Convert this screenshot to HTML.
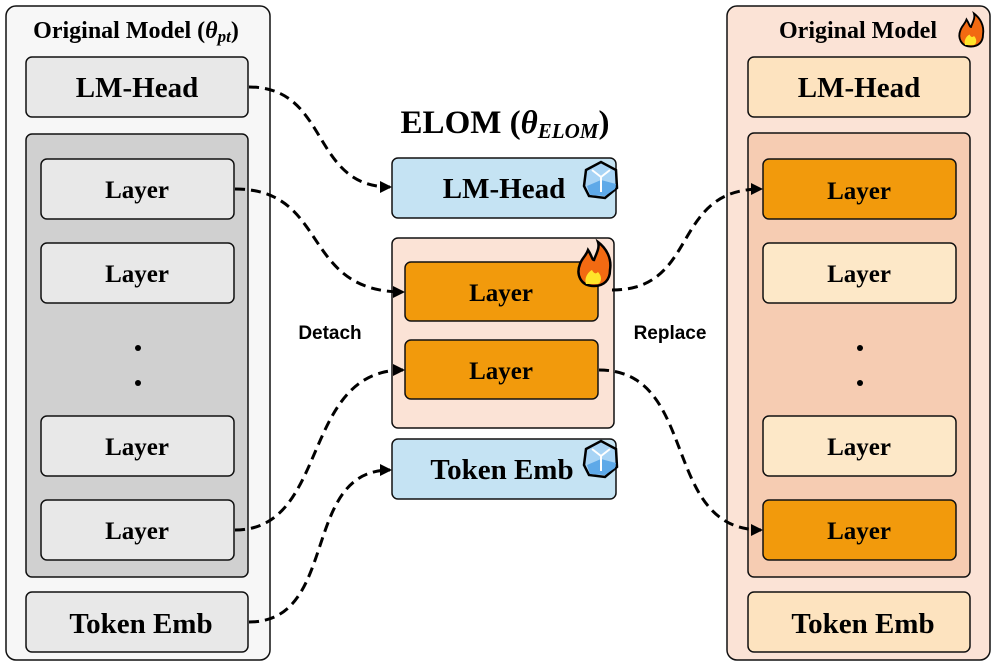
<!DOCTYPE html>
<html><head><meta charset="utf-8"><style>
html,body{margin:0;padding:0;background:#fff;}
svg{display:block;}
.t{font-family:"Liberation Serif",serif;font-weight:bold;fill:#000;}
.s{font-family:"Liberation Sans",sans-serif;font-weight:bold;fill:#000;}
.b{stroke:#111;stroke-width:1.5;}
.d{fill:none;stroke:#000;stroke-width:3;stroke-dasharray:10,6;}
</style></head><body>
<svg width="996" height="665" viewBox="0 0 996 665" xmlns="http://www.w3.org/2000/svg">
<defs>
<marker id="a" markerWidth="12" markerHeight="12" refX="10" refY="6" orient="auto" markerUnits="userSpaceOnUse">
<path d="M0,0 L12,6 L0,12 Z" fill="#000"/></marker>
<g id="ice">
<path d="M-15,-10 L0,-18 L15,-10 L16,8 L4,18 L-12,16 L-17,6 Z" fill="#a8d4f5" stroke="#000" stroke-width="2.5"/>
<path d="M-14,6 L0,0 L15,4 L14,9 L4,16 L-11,15 Z" fill="#5ea9e8"/>
<path d="M0,-3 L0,12 M0,-3 L-9,-10 M0,-3 L9,-10" stroke="#fff" stroke-width="2" fill="none"/>
</g>
<g id="fire">
<path d="M0,18 C-14,18 -18,6 -14,-4 C-12,-10 -8,-12 -6,-18 C-2,-12 -2,-8 0,-8 C2,-14 6,-20 4,-26 C12,-20 18,-10 16,2 C16,12 10,18 0,18 Z" fill="#f26a12" stroke="#000" stroke-width="2.5"/>
<path d="M-8,16 C-10,10 -6,4 -2,2 C0,6 2,6 4,4 C8,8 8,14 4,16 Z" fill="#ffe42a"/>
</g>
</defs>

<!-- Left -->
<rect x="6" y="6" width="264" height="654" rx="10" fill="#f7f7f7" class="b"/>
<text x="136" y="38" text-anchor="middle" class="t" font-size="24">Original Model (<tspan font-style="italic">θ</tspan><tspan font-style="italic" font-size="17" dy="4">pt</tspan><tspan dy="-4">)</tspan></text>
<rect x="26" y="57" width="222" height="60" rx="6" fill="#e8e8e8" class="b"/>
<text x="137" y="97" text-anchor="middle" class="t" font-size="29">LM-Head</text>
<rect x="26" y="134" width="222" height="443" rx="6" fill="#d0d0d0" class="b"/>
<rect x="41" y="159" width="193" height="60" rx="6" fill="#e8e8e8" class="b"/>
<text x="137" y="198" text-anchor="middle" class="t" font-size="25">Layer</text>
<rect x="41" y="243" width="193" height="60" rx="6" fill="#e8e8e8" class="b"/>
<text x="137" y="282" text-anchor="middle" class="t" font-size="25">Layer</text>
<circle cx="138" cy="348" r="3" fill="#000"/><circle cx="138" cy="383" r="3" fill="#000"/>
<rect x="41" y="416" width="193" height="60" rx="6" fill="#e8e8e8" class="b"/>
<text x="137" y="455" text-anchor="middle" class="t" font-size="25">Layer</text>
<rect x="41" y="500" width="193" height="60" rx="6" fill="#e8e8e8" class="b"/>
<text x="137" y="539" text-anchor="middle" class="t" font-size="25">Layer</text>
<rect x="26" y="592" width="222" height="60" rx="6" fill="#e8e8e8" class="b"/>
<text x="141" y="633" text-anchor="middle" class="t" font-size="29">Token Emb</text>

<!-- Middle -->
<text x="505" y="133" text-anchor="middle" class="t" font-size="33">ELOM (<tspan font-style="italic">θ</tspan><tspan font-style="italic" font-size="21" dy="5">ELOM</tspan><tspan dy="-5">)</tspan></text>
<rect x="392" y="158" width="224" height="60" rx="6" fill="#c5e3f3" class="b"/>
<text x="504" y="198" text-anchor="middle" class="t" font-size="29">LM-Head</text>
<use href="#ice" x="601" y="180"/>
<rect x="392" y="238" width="222" height="190" rx="6" fill="#fbe3d6" class="b"/>
<rect x="405" y="262" width="193" height="59" rx="6" fill="#f29a0c" class="b"/>
<text x="501" y="301" text-anchor="middle" class="t" font-size="25">Layer</text>
<rect x="405" y="340" width="193" height="59" rx="6" fill="#f29a0c" class="b"/>
<text x="501" y="379" text-anchor="middle" class="t" font-size="25">Layer</text>
<use href="#fire" x="594" y="268"/>
<rect x="392" y="439" width="224" height="60" rx="6" fill="#c5e3f3" class="b"/>
<text x="502" y="479" text-anchor="middle" class="t" font-size="29">Token Emb</text>
<use href="#ice" x="601" y="459"/>

<text x="330" y="339" text-anchor="middle" class="s" font-size="19">Detach</text>
<text x="670" y="339" text-anchor="middle" class="s" font-size="19">Replace</text>

<!-- Right -->
<rect x="727" y="6" width="263" height="654" rx="10" fill="#fbe3d6" class="b"/>
<text x="858" y="38" text-anchor="middle" class="t" font-size="24">Original Model</text>
<g transform="translate(971,33) scale(0.75)"><use href="#fire"/></g>
<rect x="748" y="57" width="222" height="60" rx="6" fill="#fde3bf" class="b"/>
<text x="859" y="97" text-anchor="middle" class="t" font-size="29">LM-Head</text>
<rect x="748" y="133" width="222" height="444" rx="6" fill="#f6ccb2" class="b"/>
<rect x="763" y="159" width="193" height="60" rx="6" fill="#f29a0c" class="b"/>
<text x="859" y="199" text-anchor="middle" class="t" font-size="25">Layer</text>
<rect x="763" y="243" width="193" height="60" rx="6" fill="#fde8c8" class="b"/>
<text x="859" y="282" text-anchor="middle" class="t" font-size="25">Layer</text>
<circle cx="860" cy="348" r="3" fill="#000"/><circle cx="860" cy="383" r="3" fill="#000"/>
<rect x="763" y="416" width="193" height="60" rx="6" fill="#fde8c8" class="b"/>
<text x="859" y="455" text-anchor="middle" class="t" font-size="25">Layer</text>
<rect x="763" y="500" width="193" height="60" rx="6" fill="#f29a0c" class="b"/>
<text x="859" y="539" text-anchor="middle" class="t" font-size="25">Layer</text>
<rect x="748" y="592" width="222" height="60" rx="6" fill="#fde3bf" class="b"/>
<text x="863" y="633" text-anchor="middle" class="t" font-size="29">Token Emb</text>

<!-- Connectors -->
<path class="d" d="M249,87 C330,87 310,187 390,187" marker-end="url(#a)"/>
<path class="d" d="M235,189 C330,189 300,292 403,292" marker-end="url(#a)"/>
<path class="d" d="M235,530 C330,530 300,370 403,370" marker-end="url(#a)"/>
<path class="d" d="M249,622 C340,622 300,470 390,470" marker-end="url(#a)"/>
<path class="d" d="M612,290 C700,290 670,189 761,189" marker-end="url(#a)"/>
<path class="d" d="M599,370 C700,370 660,530 761,530" marker-end="url(#a)"/>
</svg>
</body></html>
